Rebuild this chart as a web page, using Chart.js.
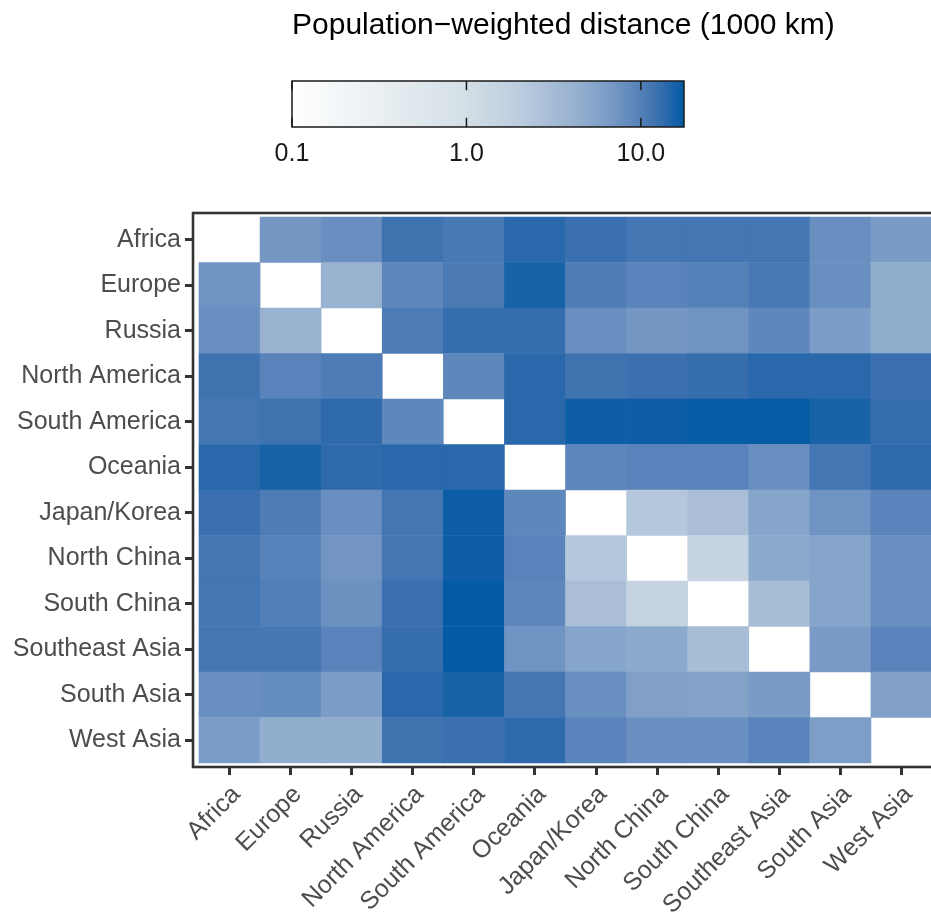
<!DOCTYPE html>
<html>
<head>
<meta charset="utf-8">
<script src="https://cdn.jsdelivr.net/npm/chart.js@4/dist/chart.umd.min.js"></script>
<style>
  html, body { margin: 0; padding: 0; background: #ffffff; overflow: hidden; width: 931px; height: 913px; }
  #stage { position: absolute; left: 0; top: 0; width: 931px; height: 913px; overflow: hidden; }
  #legend { position: absolute; left: 0; top: 0; }
  #heat { position: absolute; left: 0; top: 180px; }
</style>
</head>
<body>
<div id="stage">
  <canvas id="legend" width="931" height="167"></canvas>
  <canvas id="heat" width="940" height="733"></canvas>
</div>
<script>
// Regions, used for both rows (y) and columns (x)
const regions = [
  'Africa', 'Europe', 'Russia', 'North America', 'South America', 'Oceania',
  'Japan/Korea', 'North China', 'South China', 'Southeast Asia', 'South Asia', 'West Asia'
];

// Population-weighted distance between regions (1000 km); diagonal left empty
const distances = [
  [null, 7.0, 8.0, 12.0, 11.0, 14.0, 12.5, 11.5, 11.5, 11.5, 8.0, 6.5],
  [7.5, null, 4.0, 9.0, 10.8, 15.5, 10.5, 9.5, 10.0, 11.0, 8.0, 4.5],
  [8.0, 4.0, null, 10.5, 13.0, 13.0, 8.0, 7.0, 7.5, 9.0, 6.3, 4.6],
  [12.0, 9.5, 10.5, null, 9.0, 14.0, 12.0, 12.5, 13.0, 14.0, 14.0, 12.5],
  [11.5, 12.0, 13.5, 9.0, null, 14.0, 16.5, 16.5, 17.2, 17.2, 15.5, 13.0],
  [14.0, 15.5, 13.5, 14.0, 14.0, null, 9.0, 9.5, 9.5, 8.0, 11.5, 13.5],
  [12.5, 10.5, 8.0, 11.5, 16.5, 9.0, null, 2.3, 2.9, 5.5, 7.5, 9.5],
  [11.5, 9.8, 7.2, 11.5, 16.5, 9.5, 2.3, null, 1.5, 5.0, 5.5, 8.0],
  [11.5, 10.3, 7.7, 12.5, 17.5, 9.0, 2.9, 1.5, null, 3.0, 5.5, 8.0],
  [11.5, 11.3, 9.5, 13.0, 17.5, 7.5, 5.5, 5.0, 3.0, null, 6.5, 9.5],
  [8.0, 8.2, 6.3, 14.0, 15.5, 11.5, 8.0, 6.0, 5.8, 6.5, null, 6.0],
  [6.3, 4.5, 4.5, 12.0, 12.5, 13.5, 9.5, 8.0, 8.0, 9.5, 6.2, null]
];

// Colour bar range and labelled ticks (log scale)
const legendMin = 0.1;
const legendMax = 17.66;
const legendTicks = [0.1, 1, 10];
const legendTitle = 'Population\u2212weighted distance (1000 km)';

// Colour ramp: value -> colour, interpolated on a log scale
const colourStops = [
  [0.1, '#ffffff'],
  [1, '#d3dfe6'],
  [2, '#bccddf'],
  [3, '#a8bdd6'],
  [5, '#8caacc'],
  [7, '#7597c4'],
  [10, '#5480b8'],
  [13, '#356dad'],
  [17.66, '#035aa5']
];

const FONT = '"Liberation Sans", Arial, Helvetica, sans-serif';

function logFraction(v) {
  const a = Math.log10(legendMin), b = Math.log10(legendMax);
  return Math.min(1, Math.max(0, (Math.log10(v) - a) / (b - a)));
}
function hexToRgb(h) {
  return [parseInt(h.slice(1, 3), 16), parseInt(h.slice(3, 5), 16), parseInt(h.slice(5, 7), 16)];
}
function colourFor(v) {
  const t = logFraction(v);
  for (let i = 1; i < colourStops.length; i++) {
    const t0 = logFraction(colourStops[i - 1][0]);
    const t1 = logFraction(colourStops[i][0]);
    if (t <= t1 || i === colourStops.length - 1) {
      const f = t1 > t0 ? Math.min(1, Math.max(0, (t - t0) / (t1 - t0))) : 0;
      const c0 = hexToRgb(colourStops[i - 1][1]);
      const c1 = hexToRgb(colourStops[i][1]);
      const c = c0.map((x, k) => Math.round(x + (c1[k] - x) * f));
      return `rgb(${c[0]},${c[1]},${c[2]})`;
    }
  }
  return colourStops[colourStops.length - 1][1];
}

// ---------- colour bar legend ----------
function gradientFill(chart) {
  const area = chart.chartArea;
  if (!area) return '#ffffff';
  const g = chart.ctx.createLinearGradient(area.left, 0, area.right, 0);
  colourStops.forEach(([v, col]) => g.addColorStop(logFraction(v), col));
  return g;
}

const legendDecor = {
  id: 'legendDecor',
  afterDraw(chart) {
    const { ctx, chartArea: a } = chart;
    const xs = chart.scales.x;
    ctx.save();
    ctx.strokeStyle = '#1a1a1a';
    ctx.lineWidth = 1.5;
    const h = (a.bottom - a.top) / 5;
    legendTicks.forEach(v => {
      const x = xs.getPixelForValue(v);
      ctx.beginPath();
      ctx.moveTo(x, a.top); ctx.lineTo(x, a.top + h);
      ctx.moveTo(x, a.bottom - h); ctx.lineTo(x, a.bottom);
      ctx.stroke();
    });
    ctx.strokeRect(a.left, a.top, a.right - a.left, a.bottom - a.top);
    ctx.fillStyle = '#000000';
    ctx.font = `30px ${FONT}`;
    ctx.textAlign = 'left';
    ctx.textBaseline = 'alphabetic';
    ctx.fillText(legendTitle, a.left, 34);
    ctx.restore();
  }
};

new Chart(document.getElementById('legend'), {
  type: 'bar',
  data: {
    labels: [''],
    datasets: [{
      data: [[legendMin, legendMax]],
      backgroundColor: (c) => gradientFill(c.chart),
      borderWidth: 0,
      barPercentage: 1,
      categoryPercentage: 1,
      inflateAmount: 0
    }]
  },
  options: {
    indexAxis: 'y',
    responsive: false,
    animation: false,
    events: [],
    layout: { padding: { left: 292, right: 931 - 684, top: 81, bottom: 0 } },
    plugins: { legend: { display: false }, tooltip: { enabled: false } },
    scales: {
      x: {
        type: 'logarithmic',
        min: legendMin,
        max: legendMax,
        afterBuildTicks: (s) => { s.ticks = legendTicks.map(v => ({ value: v })); },
        afterFit: (s) => { s.height = 40; },
        grid: { display: false, drawTicks: false },
        border: { display: false },
        ticks: {
          autoSkip: false, maxRotation: 0, padding: 12,
          color: '#1a1a1a', font: { family: FONT, size: 25 },
          callback: (v) => Number(v).toFixed(1)
        }
      },
      y: { display: false }
    }
  },
  plugins: [legendDecor]
});

// ---------- heatmap ----------
const cells = [];
distances.forEach((row, r) => row.forEach((v, c) => {
  if (v !== null) cells.push({ x: c, y: [r - 0.5, r + 0.5], v });
}));

const frame = {
  id: 'frame',
  afterDraw(chart) {
    const { ctx, chartArea: a } = chart;
    ctx.save();
    ctx.strokeStyle = '#333333';
    ctx.lineWidth = 2.6;
    ctx.strokeRect(a.left, a.top, a.right - a.left, a.bottom - a.top);
    ctx.restore();
  }
};

new Chart(document.getElementById('heat'), {
  type: 'bar',
  data: {
    datasets: [{
      data: cells,
      backgroundColor: cells.map(d => colourFor(d.v)),
      borderWidth: 0,
      barPercentage: 1,
      categoryPercentage: 1
    }]
  },
  options: {
    responsive: false,
    animation: false,
    events: [],
    layout: { padding: { left: 0, right: 2, top: 33, bottom: 0 } },
    plugins: { legend: { display: false }, tooltip: { enabled: false } },
    scales: {
      x: {
        type: 'linear',
        offset: false,
        min: -0.598,
        max: 11.598,
        afterBuildTicks: (s) => { s.ticks = regions.map((_, i) => ({ value: i })); },
        afterFit: (s) => { s.height = 146; },
        grid: { display: true, offset: false, drawOnChartArea: false, drawTicks: true, tickLength: 8, tickWidth: 3, tickColor: '#333333' },
        border: { display: false },
        ticks: {
          autoSkip: false, minRotation: 45, maxRotation: 45, padding: 5, labelOffset: 7,
          color: '#4d4d4d', font: { family: FONT, size: 25 },
          callback: (v) => regions[v]
        }
      },
      y: {
        type: 'linear',
        reverse: true,
        min: -0.588,
        max: 11.588,
        afterBuildTicks: (s) => { s.ticks = regions.map((_, i) => ({ value: i })); },
        afterFit: (s) => { s.width = 193; },
        grid: { display: true, offset: false, drawOnChartArea: false, drawTicks: true, tickLength: 8, tickWidth: 3, tickColor: '#333333' },
        border: { display: false },
        ticks: {
          autoSkip: false, padding: 4,
          color: '#4d4d4d', font: { family: FONT, size: 25 },
          callback: (v) => regions[v]
        }
      }
    }
  },
  plugins: [frame]
});
</script>
</body>
</html>
